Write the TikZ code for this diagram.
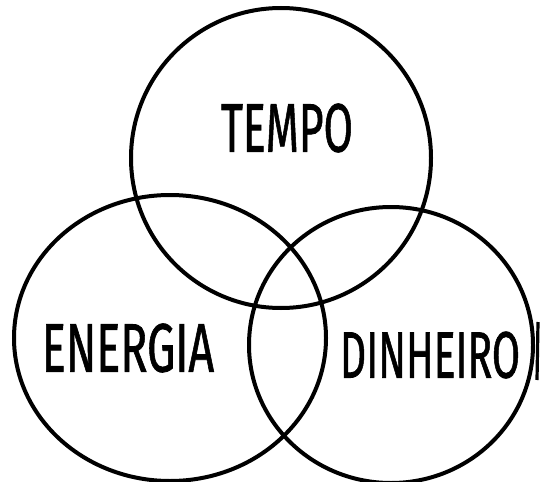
\documentclass[tikz,border=0pt]{standalone}
\usepackage{fontspec}
\setmainfont{Fira Sans}
\newfontfamily\handfont{Fira Sans}[FakeBold=1.2]
\usepackage{graphicx}
\usetikzlibrary{positioning}

\begin{document}
\begin{tikzpicture}[
    x=0.5mm, y=-0.5mm,
    setring/.style = {draw, line width=2mm},
    setlabel/.style = {inner sep=0pt, font=\handfont},
    ]

    \useasboundingbox (0,0) rectangle (542,482);

    % the three sets
    \draw[setring] (281,158) ellipse [x radius=150, y radius=150];
    \draw[setring] (170,338) ellipse [x radius=156, y radius=143];
    \draw[setring] (391,345) ellipse [x radius=142, y radius=138];
    \draw[line width=1.6mm] (538,322) -- (537,380);

    \node[setlabel] (tempo) at (287,128) {\resizebox{66mm}{24mm}{TEMPO}};
    \node[setlabel] (energia) at (128,348) {\resizebox{86mm}{24mm}{ENERGIA}};
    \node[setlabel] (dinheiro) at (430,355) {\resizebox{90mm}{23mm}{DINHEIRO}};

\end{tikzpicture}
\end{document}
